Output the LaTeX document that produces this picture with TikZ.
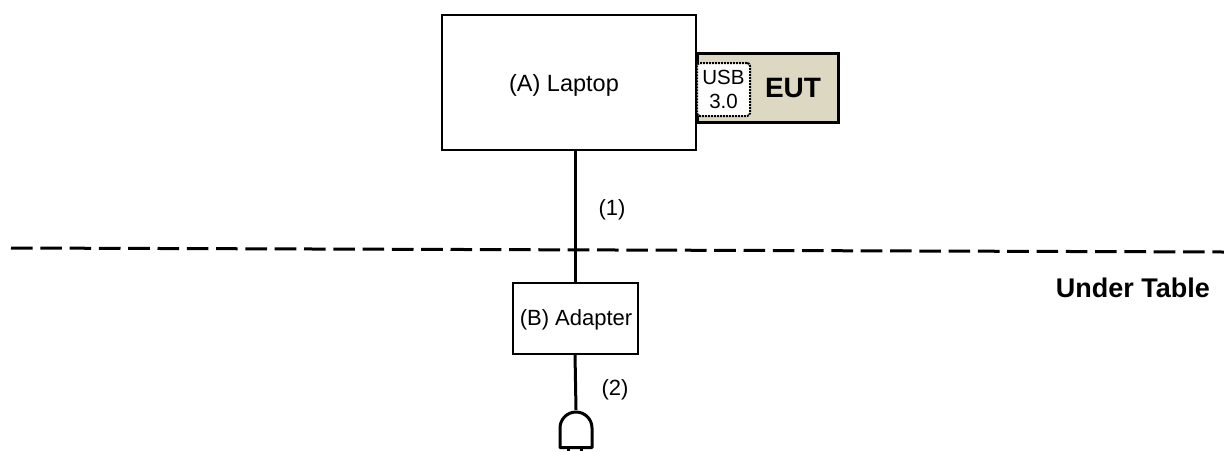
\documentclass[tikz,border=0pt]{standalone}
\usepackage{fontspec}
\setmainfont{Liberation Sans}
\definecolor{eutfill}{RGB}{221,216,194}
\tikzset{
  box/.style={draw=black,line width=2.7pt,fill=white,inner sep=0pt,outer sep=0pt},
  wire/.style={draw=black,line width=3pt},
  lbl/.style={font=\fontsize{22}{26}\selectfont,inner sep=0pt},
  blbl/.style={font=\fontsize{27}{30}\selectfont\bfseries,inner sep=0pt}
}
\begin{document}
\begin{tikzpicture}[x=1pt,y=-1pt]
\useasboundingbox (0,0) rectangle (1224,451);
\node[box,fill=eutfill,line width=3pt,minimum width=141pt,minimum height=69pt] (eut) at (767.5,87.5) {};
\node[blbl,font=\fontsize{28}{30}\selectfont\bfseries] (eutl) at (793,88) {EUT};
\node[draw=black,fill=white,densely dotted,line width=2pt,rounded corners=3pt,minimum width=53pt,minimum height=53pt,inner sep=0pt,outer sep=0pt,align=center,font=\fontsize{20.5}{24.5}\selectfont] (usb) at (723.5,89.5) {USB\\3.0};
\node[box,minimum width=254pt,minimum height=135pt] (laptop) at (569,82.5) {};
\node[lbl,font=\fontsize{23.5}{26}\selectfont] (laptopl) at (564,85) {(A) Laptop};
\node[box,minimum width=125pt,minimum height=71pt] (adapter) at (575.5,318.5) {};
\node[lbl] (adapterl) at (576,320) {(B) Adapter};
\coordinate (la) at (575,150);
\coordinate (ad) at (575,283);
\draw[wire] (la) -- (ad);
\coordinate (ab) at (575,354);
\coordinate (pt) at (576,410);
\draw[wire] (ab) -- (pt);
\coordinate (dl) at (11,248);
\coordinate (dr) at (1224,252);
\draw[black,line width=3pt,dash pattern=on 21.6pt off 7.7pt] (dl) -- (dr);
\node[lbl] (n1) at (612,210) {(1)};
\node[lbl] (n2) at (615,390) {(2)};
\node[blbl,anchor=east] (ut) at (1210,288) {Under Table};
\draw[wire,line join=round] (560,447.5) -- (560,428) arc[start angle=180,end angle=0,radius=16pt] -- (592,447.5) -- cycle;
\draw[wire] (568,447.5) -- (568,451) (581,447.5) -- (581,451);
\end{tikzpicture}
\end{document}
